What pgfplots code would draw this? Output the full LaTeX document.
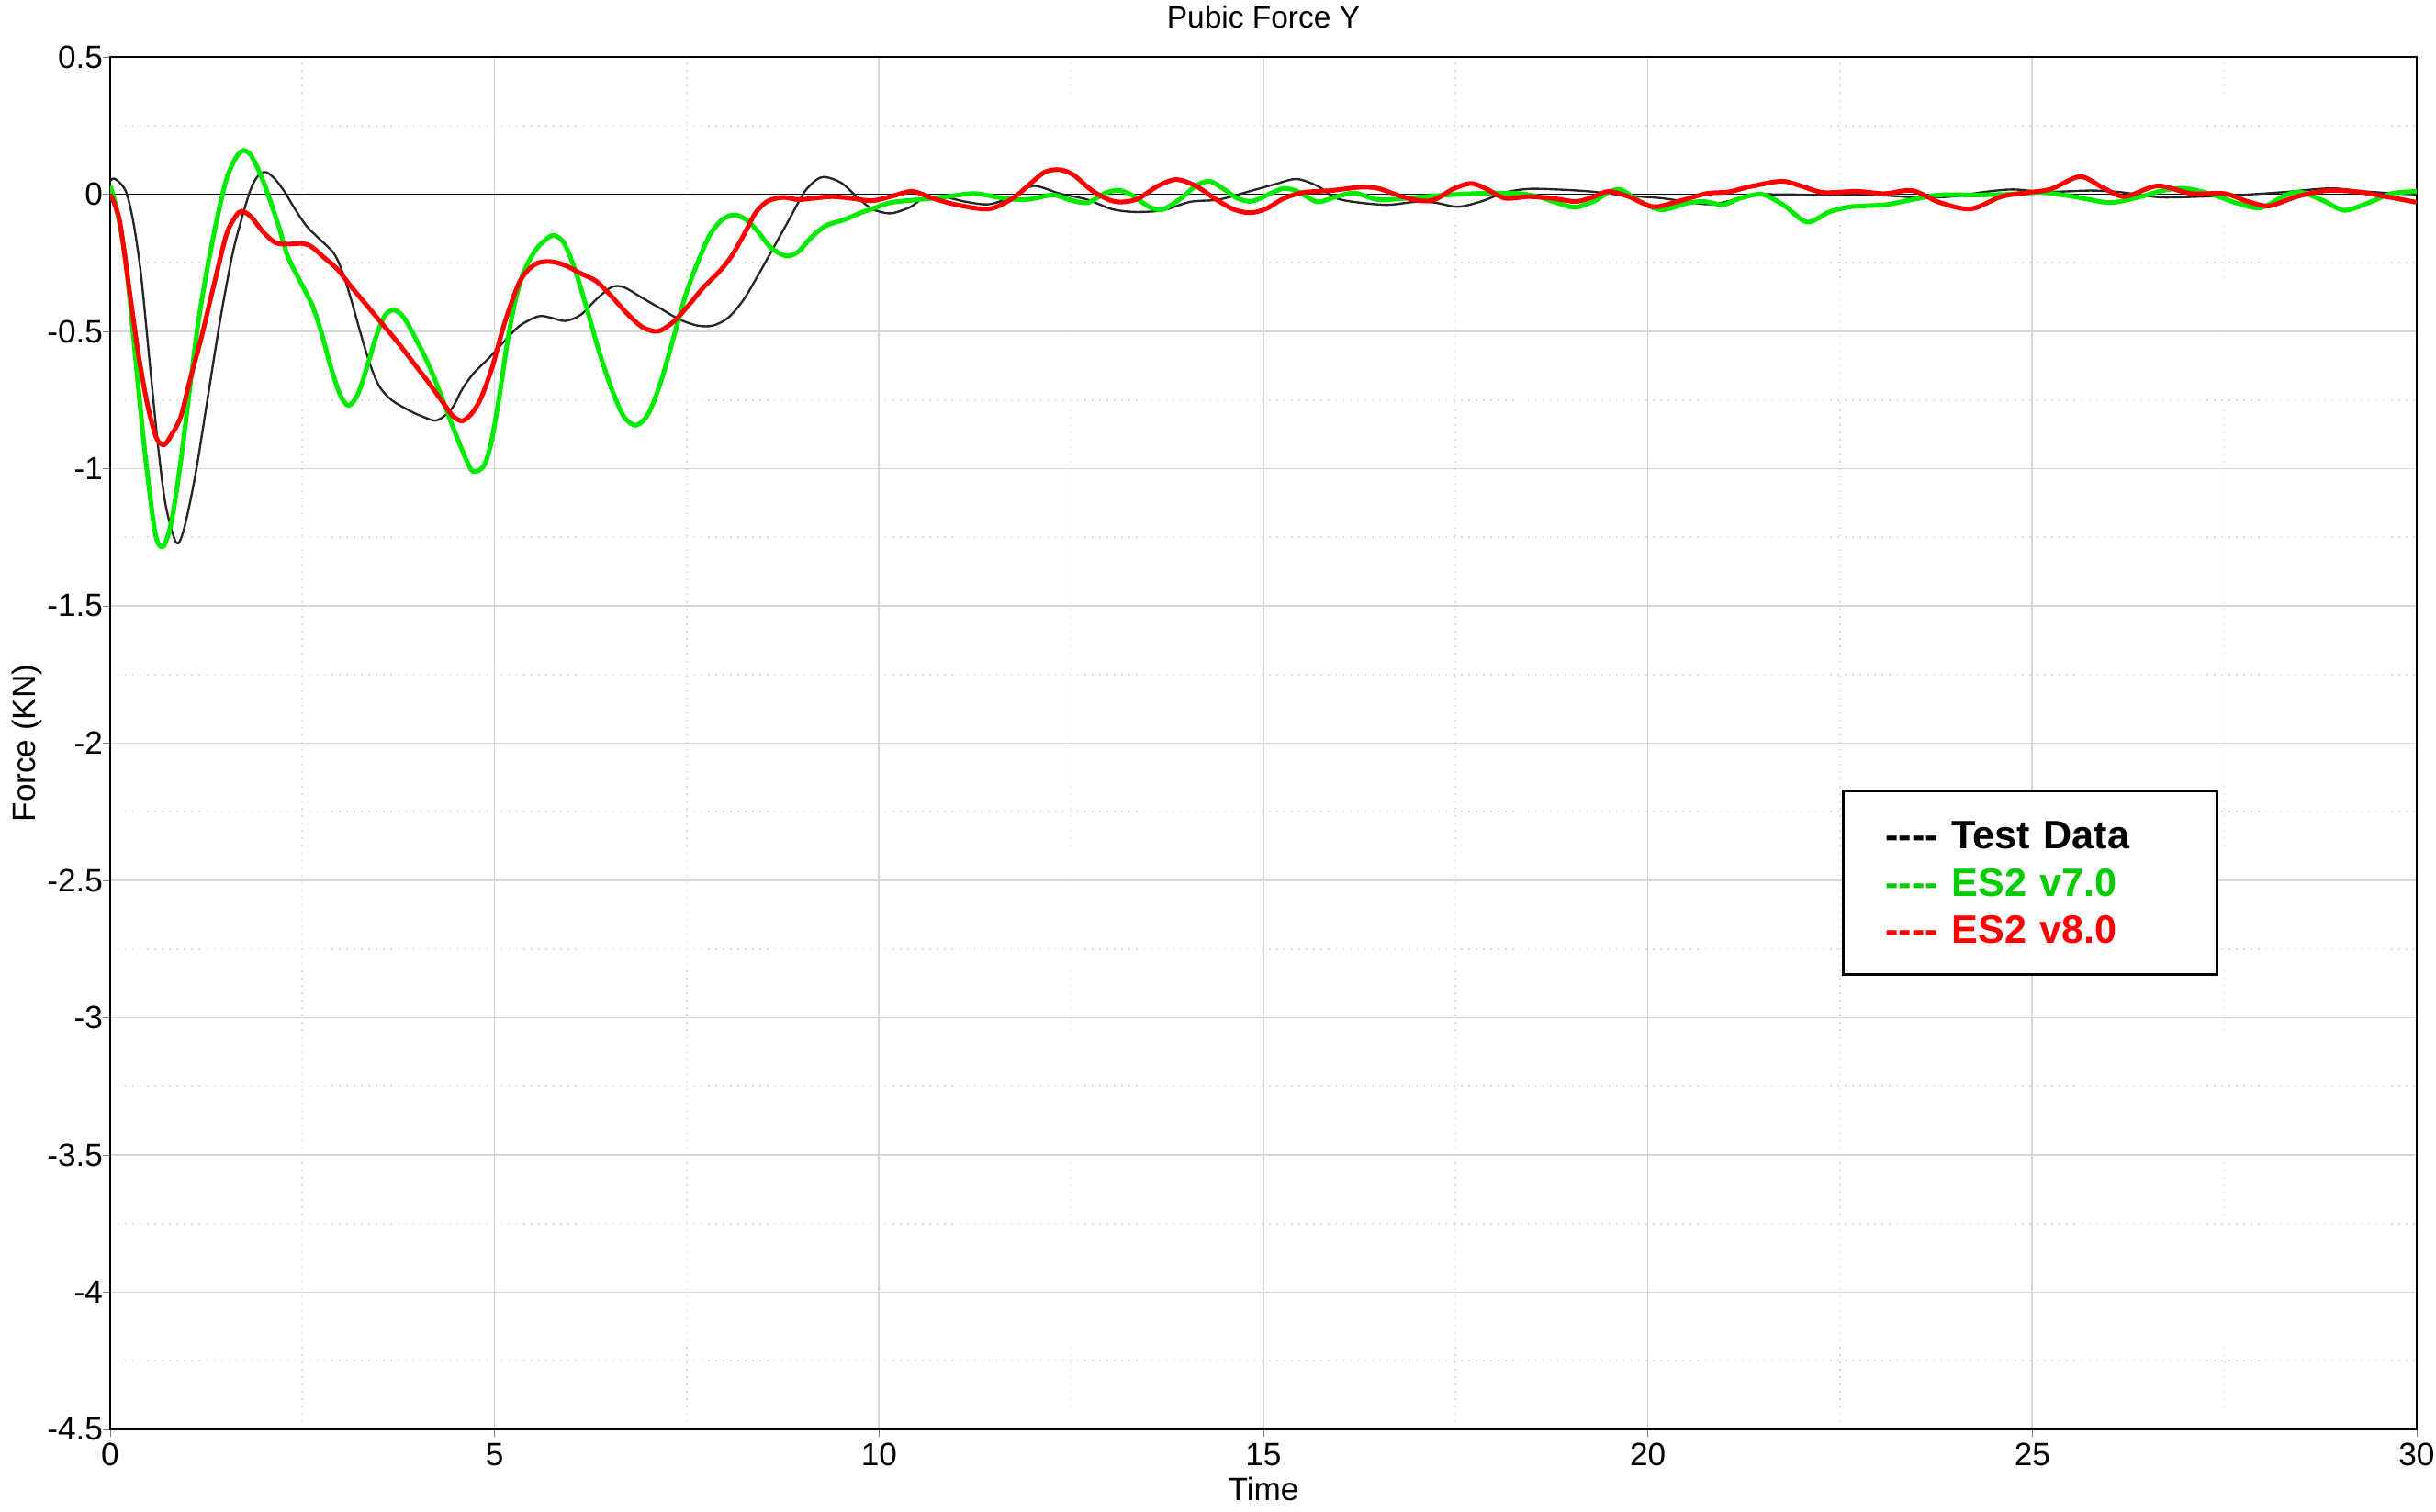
\documentclass[border=0pt]{standalone}
\usepackage{fontspec}
\setmainfont{Liberation Sans}
\usepackage{pgfplots}
\pgfplotsset{compat=1.18}
\definecolor{es7}{RGB}{0,235,0}
\definecolor{es7txt}{RGB}{0,204,0}
\definecolor{gridmaj}{RGB}{214,214,214}
\definecolor{gridmin}{RGB}{222,222,222}
\begin{document}
\begin{tikzpicture}
\begin{axis}[
    scale only axis,
    width=749.9pt, height=446.3pt,
    xmin=0, xmax=30, ymin=-4.5, ymax=0.5,
    xtick={0,5,10,15,20,25,30},
    ytick={-4.5,-4,-3.5,-3,-2.5,-2,-1.5,-1,-0.5,0,0.5},
    minor x tick num=1, minor y tick num=1,
    grid=both,
    major grid style={gridmaj, line width=0.5pt},
    minor grid style={gridmin, dotted, line width=0.5pt},
    tick align=outside, xtick pos=left, ytick pos=left,
    major tick length=2.5pt, minor tick length=0pt,
    tick style={gray},
    axis line style={black, line width=0.5pt},
    /pgf/number format/assume math mode=true,
    tick label style={font=\fontsize{10.5}{12}\selectfont},
    yticklabel style={anchor=east, inner sep=0pt, xshift=0.3pt},
    xticklabel style={anchor=north, inner sep=0pt, yshift=-1.8pt},
    title={Pubic Force Y},
    % the default title style already shifts up by 6pt: cancel it
    title style={font=\fontsize{10}{12}\selectfont, at={(axis description cs:0.5,1.0207)}, anchor=base, yshift=-6pt, inner sep=0pt},
    xlabel={Time},
    xlabel style={font=\fontsize{10.5}{12}\selectfont, at={(axis description cs:0.5,-0.0522)}, anchor=base, inner sep=0pt},
    ylabel={Force (KN)},
    ylabel style={font=\fontsize{10.5}{12}\selectfont, at={(axis description cs:-0.0359,0.5)}, anchor=center, inner sep=0pt},
]
% zero line
\addplot[black, line width=0.5pt, forget plot] coordinates {(0,0) (30,0)};

% Test Data
\addplot[black!85, line width=0.7pt, smooth, tension=0.5] coordinates {
(0,0.047) (0.06,0.056) (0.2,0.013) (0.3,-0.10) (0.4,-0.29) (0.52,-0.63) (0.62,-0.91) (0.72,-1.13)
(0.86,-1.27) (0.96,-1.22) (1.11,-1.02) (1.27,-0.74) (1.43,-0.46) (1.59,-0.22) (1.71,-0.09) (1.83,0.019)
(1.93,0.069) (2.03,0.08) (2.15,0.053) (2.27,0.008) (2.39,-0.048) (2.55,-0.115) (2.71,-0.16) (2.91,-0.216)
(3.03,-0.29) (3.14,-0.39) (3.26,-0.51) (3.38,-0.62) (3.5,-0.70) (3.66,-0.75) (3.9,-0.79) (4.06,-0.81)
(4.22,-0.825) (4.34,-0.81) (4.46,-0.775) (4.58,-0.71) (4.73,-0.652) (4.93,-0.596) (5.13,-0.535) (5.33,-0.479)
(5.57,-0.445) (5.73,-0.45) (5.92,-0.462) (6.12,-0.44) (6.32,-0.384) (6.52,-0.339) (6.68,-0.339) (6.92,-0.378)
(7.16,-0.417) (7.40,-0.456) (7.64,-0.479) (7.84,-0.479) (8.04,-0.45) (8.24,-0.384) (8.43,-0.294) (8.63,-0.194)
(8.83,-0.093) (9.03,0.008) (9.19,0.053) (9.31,0.062) (9.51,0.041) (9.71,-0.009) (9.91,-0.054) (10.15,-0.07)
(10.40,-0.048) (10.58,-0.015) (10.82,-0.009) (11.13,-0.028) (11.43,-0.037) (11.74,-0.009) (12.01,0.03) (12.35,0.002)
(12.71,-0.02) (13.02,-0.054) (13.32,-0.065) (13.69,-0.059) (14.05,-0.028) (14.42,-0.02) (14.79,0.008) (15.15,0.036)
(15.43,0.055) (15.70,0.03) (15.95,-0.015) (16.25,-0.031) (16.62,-0.039) (16.98,-0.028) (17.23,-0.031) (17.53,-0.046)
(17.84,-0.026) (18.14,0.006) (18.45,0.019) (18.81,0.017) (19.24,0.01) (19.75,-0.006) (20.18,-0.015) (20.76,-0.037)
(21.05,-0.026) (21.34,-0.003) (21.78,-0.001) (22.21,-0.003) (22.93,-0.003) (23.51,-0.012) (23.95,-0.009) (24.38,0.008)
(24.75,0.017) (25.18,0.008) (25.76,0.013) (26.12,0.008) (26.41,-0.003) (26.70,-0.012) (27.21,-0.009) (27.72,-0.003)
(28.30,0.008) (28.88,0.021) (29.31,0.01) (29.75,0.002) (30,-0.001)
};

% ES2 v7.0
\addplot[es7, line width=1.5pt, smooth, tension=0.5] coordinates {
(0,0.03) (0.08,-0.05) (0.2,-0.24) (0.32,-0.57) (0.44,-0.91) (0.56,-1.19) (0.62,-1.27) (0.70,-1.28)
(0.80,-1.19) (0.92,-0.97) (1.03,-0.72) (1.15,-0.46) (1.27,-0.26) (1.39,-0.09) (1.51,0.053) (1.63,0.13)
(1.73,0.159) (1.83,0.142) (1.95,0.075) (2.07,-0.015) (2.19,-0.115) (2.31,-0.227) (2.47,-0.317) (2.63,-0.406)
(2.75,-0.507) (2.87,-0.63) (2.99,-0.73) (3.10,-0.77) (3.22,-0.73) (3.34,-0.63) (3.46,-0.518) (3.58,-0.44)
(3.70,-0.423) (3.82,-0.45) (3.98,-0.53) (4.14,-0.62) (4.30,-0.73) (4.46,-0.85) (4.62,-0.96) (4.72,-1.01)
(4.86,-0.99) (4.96,-0.90) (5.06,-0.74) (5.16,-0.55) (5.26,-0.40) (5.37,-0.29) (5.53,-0.205) (5.69,-0.16)
(5.78,-0.151) (5.90,-0.177) (6.04,-0.27) (6.20,-0.417) (6.36,-0.574) (6.52,-0.708) (6.68,-0.81) (6.84,-0.842)
(7.0,-0.80) (7.16,-0.686) (7.32,-0.53) (7.48,-0.372) (7.64,-0.25) (7.80,-0.149) (7.96,-0.093) (8.12,-0.076)
(8.27,-0.093) (8.43,-0.138) (8.59,-0.194) (8.79,-0.225) (8.95,-0.21) (9.11,-0.16) (9.31,-0.115) (9.55,-0.093)
(9.79,-0.065) (9.91,-0.054) (10.15,-0.031) (10.52,-0.02) (10.88,-0.009) (11.25,0.002) (11.62,-0.015) (11.92,-0.02)
(12.26,-0.003) (12.47,-0.02) (12.71,-0.031) (12.96,0.006) (13.14,0.013) (13.32,-0.009) (13.51,-0.046) (13.69,-0.056)
(13.93,-0.015) (14.12,0.03) (14.30,0.047) (14.48,0.019) (14.66,-0.015) (14.85,-0.026) (15.09,0.002) (15.27,0.021)
(15.46,0.008) (15.70,-0.028) (15.95,-0.009) (16.19,0.004) (16.49,-0.02) (16.86,-0.015) (17.23,-0.006) (17.59,0)
(17.96,0.004) (18.32,0.002) (18.57,-0.009) (18.81,-0.031) (19.05,-0.048) (19.30,-0.026) (19.46,0.002) (19.64,0.017)
(19.89,-0.026) (20.18,-0.057) (20.54,-0.031) (20.76,-0.028) (20.98,-0.039) (21.20,-0.015) (21.49,-0.001) (21.78,-0.043)
(22.07,-0.102) (22.36,-0.065) (22.64,-0.046) (23.08,-0.039) (23.44,-0.02) (23.80,-0.003) (24.24,-0.003) (24.67,-0.001)
(25.11,0.006) (25.54,-0.009) (26.01,-0.031) (26.41,-0.009) (26.70,0.013) (26.99,0.021) (27.36,-0.003) (27.64,-0.031)
(27.97,-0.05) (28.30,-0.003) (28.51,0.006) (28.80,-0.026) (29.06,-0.059) (29.38,-0.031) (29.67,0.002) (30,0.01)
};

% ES2 v8.0
\addplot[red, line width=1.5pt, smooth, tension=0.5] coordinates {
(0,0) (0.12,-0.093) (0.24,-0.33) (0.36,-0.57) (0.48,-0.76) (0.60,-0.887) (0.70,-0.913) (0.80,-0.876)
(0.92,-0.81) (1.03,-0.686) (1.19,-0.518) (1.35,-0.33) (1.51,-0.149) (1.63,-0.082) (1.71,-0.062) (1.83,-0.082)
(1.99,-0.138) (2.15,-0.177) (2.31,-0.182) (2.51,-0.18) (2.63,-0.194) (2.79,-0.233) (2.95,-0.272) (3.14,-0.339)
(3.34,-0.406) (3.54,-0.473) (3.74,-0.54) (3.94,-0.613) (4.14,-0.686) (4.34,-0.764) (4.46,-0.809) (4.58,-0.826)
(4.70,-0.80) (4.82,-0.745) (4.97,-0.63) (5.13,-0.47) (5.33,-0.317) (5.53,-0.255) (5.73,-0.246) (5.92,-0.26)
(6.12,-0.289) (6.32,-0.317) (6.52,-0.372) (6.72,-0.434) (6.92,-0.484) (7.12,-0.5) (7.32,-0.467) (7.52,-0.406)
(7.72,-0.339) (7.92,-0.283) (8.08,-0.227) (8.24,-0.149) (8.39,-0.07) (8.55,-0.026) (8.75,-0.012) (8.95,-0.02)
(9.15,-0.015) (9.39,-0.009) (9.63,-0.015) (9.91,-0.024) (10.15,-0.009) (10.43,0.01) (10.70,-0.015) (11.01,-0.039)
(11.43,-0.054) (11.74,-0.015) (11.98,0.041) (12.16,0.081) (12.35,0.089) (12.53,0.07) (12.77,0.013) (13.02,-0.024)
(13.20,-0.028) (13.38,-0.015) (13.63,0.03) (13.87,0.053) (14.12,0.03) (14.36,-0.015) (14.60,-0.054) (14.82,-0.068)
(15.03,-0.054) (15.27,-0.015) (15.52,0.006) (15.88,0.013) (16.25,0.025) (16.49,0.021) (16.80,-0.009) (17.04,-0.024)
(17.23,-0.02) (17.47,0.019) (17.70,0.039) (17.90,0.019) (18.14,-0.015) (18.45,-0.009) (18.75,-0.015) (19.07,-0.027)
(19.30,-0.009) (19.49,0.01) (19.75,-0.009) (20.07,-0.046) (20.40,-0.026) (20.76,0.002) (21.05,0.008) (21.34,0.028)
(21.74,0.047) (21.99,0.03) (22.28,0.006) (22.72,0.01) (23.08,0.002) (23.44,0.013) (23.80,-0.031) (24.20,-0.054)
(24.60,-0.009) (24.96,0.006) (25.25,0.019) (25.62,0.064) (25.91,0.025) (26.20,-0.009) (26.63,0.03) (27.07,0.002)
(27.50,0.002) (27.79,-0.026) (28.08,-0.043) (28.44,-0.009) (28.84,0.013) (29.24,0.008) (29.60,-0.009) (30,-0.03)
};

% legend box
\node[draw=black, line width=1pt, fill=white, anchor=north west,
      inner xsep=13.7pt, inner ysep=0pt, minimum height=59.7pt,
      text width=94.1pt, align=left,
      font=\fontsize{12.9}{15.4}\selectfont\bfseries]
  at (rel axis cs:0.7508,0.4663)
  {\mbox{-{}-{}-{}-} Test Data\\
   \textcolor{es7txt}{\mbox{-{}-{}-{}-} ES2 v7.0}\\
   \textcolor{red}{\mbox{-{}-{}-{}-} ES2 v8.0}};
\end{axis}
\pgfresetboundingbox
\path[use as bounding box] (-35.82pt,-26.87pt) rectangle (756.18pt,464.8pt);
\end{tikzpicture}
\end{document}
